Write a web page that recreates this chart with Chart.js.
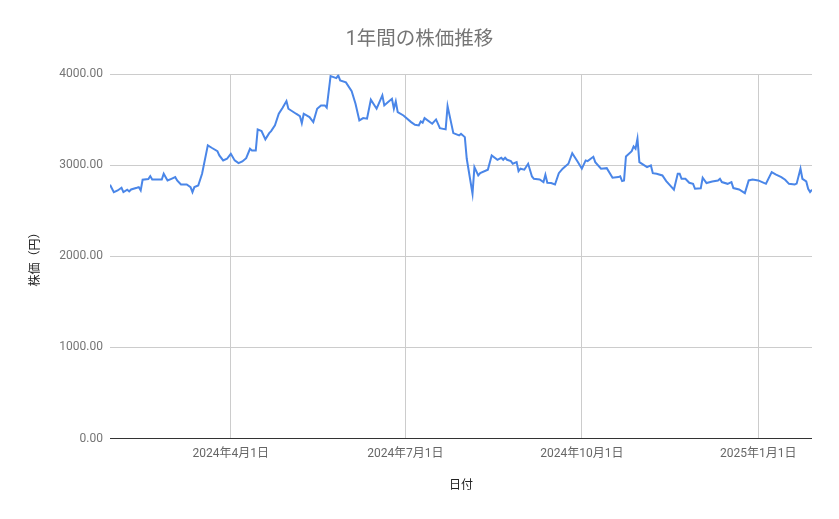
<!DOCTYPE html>
<html>
<head>
<meta charset="utf-8">
<script src="https://cdn.jsdelivr.net/npm/chart.js@4"></script>
<style>
  html, body { margin: 0; padding: 0; background: #fff; }
  #wrap { width: 839px; height: 519px; position: relative; }
</style>
</head>
<body>
<div id="wrap"><canvas id="c"></canvas></div>
<script>
const chartTitle = '1年間の株価推移';
const xAxisTitle = '日付';
const yAxisTitle = '株価（円）';

const dates = [
  '2024-01-29','2024-01-31','2024-02-02','2024-02-04','2024-02-05','2024-02-07','2024-02-08','2024-02-09',
  '2024-02-12','2024-02-13','2024-02-14','2024-02-15','2024-02-18','2024-02-19','2024-02-20','2024-02-25',
  '2024-02-26','2024-02-28','2024-03-01','2024-03-03','2024-03-04','2024-03-06','2024-03-09','2024-03-11',
  '2024-03-12','2024-03-13','2024-03-15','2024-03-17','2024-03-20','2024-03-22','2024-03-25','2024-03-26',
  '2024-03-28','2024-03-30','2024-04-01','2024-04-03','2024-04-05','2024-04-07','2024-04-09','2024-04-11',
  '2024-04-12','2024-04-14','2024-04-15','2024-04-17','2024-04-19','2024-04-21','2024-04-22','2024-04-24',
  '2024-04-26','2024-04-28','2024-04-30','2024-05-01','2024-05-05','2024-05-07','2024-05-08','2024-05-09',
  '2024-05-12','2024-05-14','2024-05-16','2024-05-18','2024-05-20','2024-05-21','2024-05-23','2024-05-26',
  '2024-05-27','2024-05-28','2024-05-31','2024-06-03','2024-06-05','2024-06-07','2024-06-09','2024-06-11',
  '2024-06-13','2024-06-16','2024-06-19','2024-06-20','2024-06-22','2024-06-24','2024-06-25','2024-06-26',
  '2024-06-27','2024-06-30','2024-07-04','2024-07-06','2024-07-08','2024-07-09','2024-07-10','2024-07-11',
  '2024-07-15','2024-07-17','2024-07-19','2024-07-22','2024-07-23','2024-07-26','2024-07-29','2024-07-30',
  '2024-08-01','2024-08-02','2024-08-05','2024-08-06','2024-08-08','2024-08-09','2024-08-13','2024-08-15',
  '2024-08-18','2024-08-20','2024-08-21','2024-08-22','2024-08-23','2024-08-25','2024-08-26','2024-08-28',
  '2024-08-29','2024-08-30','2024-09-01','2024-09-03','2024-09-05','2024-09-06','2024-09-09','2024-09-11',
  '2024-09-12','2024-09-13','2024-09-15','2024-09-17','2024-09-19','2024-09-21','2024-09-24','2024-09-26',
  '2024-09-29','2024-10-01','2024-10-03','2024-10-04','2024-10-07','2024-10-08','2024-10-11','2024-10-14',
  '2024-10-17','2024-10-20','2024-10-21','2024-10-22','2024-10-23','2024-10-24','2024-10-27','2024-10-28',
  '2024-10-29','2024-10-30','2024-10-31','2024-11-02','2024-11-04','2024-11-06','2024-11-07','2024-11-09',
  '2024-11-12','2024-11-14','2024-11-16','2024-11-18','2024-11-20','2024-11-21','2024-11-22','2024-11-24',
  '2024-11-26','2024-11-28','2024-11-29','2024-12-02','2024-12-03','2024-12-05','2024-12-08','2024-12-11',
  '2024-12-12','2024-12-13','2024-12-16','2024-12-18','2024-12-19','2024-12-22','2024-12-25','2024-12-27',
  '2024-12-29','2025-01-01','2025-01-03','2025-01-05','2025-01-08','2025-01-10','2025-01-13','2025-01-15',
  '2025-01-17','2025-01-20','2025-01-21','2025-01-23','2025-01-24','2025-01-26','2025-01-27','2025-01-28',
  '2025-01-29'
];

const prices = [
  2788,2707,2725,2755,2707,2733,2714,2736,
  2755,2762,2725,2843,2850,2883,2846,2846,
  2909,2835,2853,2872,2835,2791,2791,2762,
  2707,2762,2780,2909,3220,3194,3157,3110,
  3055,3073,3128,3055,3025,3044,3080,3183,
  3165,3165,3396,3377,3286,3355,3377,3440,
  3568,3634,3707,3623,3568,3542,3465,3568,
  3531,3476,3623,3659,3659,3634,3981,3959,
  3989,3934,3912,3815,3678,3494,3520,3513,
  3722,3623,3769,3659,3696,3732,3623,3703,
  3586,3549,3476,3447,3440,3484,3470,3520,
  3458,3505,3410,3396,3652,3355,3330,3348,
  3311,3073,2690,2981,2890,2915,2953,3110,
  3062,3084,3062,3084,3062,3047,3018,3036,
  2937,2964,2953,3018,2879,2853,2846,2817,
  2897,2809,2806,2791,2915,2964,3018,3135,
  3036,2964,3055,3047,3095,3036,2964,2970,
  2865,2872,2880,2828,2835,3099,3157,3209,
  3183,3293,3036,3008,2981,3000,2915,2909,
  2890,2828,2780,2733,2909,2909,2853,2853,
  2809,2798,2743,2748,2865,2806,2824,2835,
  2853,2817,2798,2817,2751,2736,2696,2835,
  2846,2835,2817,2798,2926,2901,2872,2843,
  2798,2791,2800,2964,2853,2824,2743,2707,
  2733
];

const xTickDates = ['2024-04-01','2024-07-01','2024-10-01','2025-01-01'];
const yTicks = [0, 1000, 2000, 3000, 4000];

function dayNum(s) {
  const [y, m, d] = s.split('-').map(Number);
  return Date.UTC(y, m - 1, d) / 86400000;
}
function fmtDate(v) {
  const dt = new Date(v * 86400000);
  return dt.getUTCFullYear() + '年' + (dt.getUTCMonth() + 1) + '月' + dt.getUTCDate() + '日';
}

const points = dates.map((d, i) => ({ x: dayNum(d), y: prices[i] }));
const FONT = "Roboto, 'Noto Sans CJK JP', sans-serif";

new Chart(document.getElementById('c'), {
  type: 'line',
  data: {
    datasets: [{
      label: '株価',
      data: points,
      borderColor: '#4a86e8',
      backgroundColor: '#4a86e8',
      borderWidth: 2,
      pointRadius: 0,
      tension: 0,
      fill: false,
      yAxisID: 'y'
    }]
  },
  options: {
    responsive: true,
    maintainAspectRatio: false,
    animation: false,
    layout: { padding: { left: 0, right: 0, top: 0, bottom: 0 } },
    plugins: {
      legend: { display: false },
      tooltip: { enabled: false },
      title: {
        display: true,
        text: chartTitle,
        color: '#757575',
        font: { family: FONT, size: 19.5, weight: 'normal' },
        padding: { top: 28, bottom: 23 }
      }
    },
    scales: {
      x: {
        type: 'linear',
        min: dayNum(dates[0]),
        max: dayNum(dates[dates.length - 1]),
        afterBuildTicks: (scale) => { scale.ticks = xTickDates.map(d => ({ value: dayNum(d) })); },
        afterFit: (scale) => { scale.height = 80.5; },
        ticks: {
          callback: (v) => fmtDate(v),
          color: '#666666',
          font: { family: FONT, size: 12 },
          padding: 8,
          maxRotation: 0,
          autoSkip: false
        },
        grid: { color: '#cccccc', drawTicks: false, lineWidth: 1 },
        border: { display: false },
        title: {
          display: true,
          text: xAxisTitle,
          color: '#222222',
          font: { family: FONT, size: 12, weight: 'normal' },
          padding: { top: 0, bottom: 26 }
        }
      },
      y: {
        type: 'linear',
        position: 'left',
        min: 0,
        max: 4000,
        afterBuildTicks: (scale) => { scale.ticks = yTicks.map(v => ({ value: v })); },
        afterFit: (scale) => { scale.width = 110; },
        ticks: {
          callback: (v) => Number(v).toFixed(2),
          color: '#757575',
          font: { family: FONT, size: 12 },
          padding: 7
        },
        grid: {
          color: (ctx) => (ctx.tick && ctx.tick.value === 0) ? '#333333' : '#cccccc',
          drawTicks: false,
          lineWidth: 1
        },
        border: { display: false },
        title: {
          display: true,
          text: yAxisTitle,
          color: '#222222',
          font: { family: FONT, size: 12, weight: 'normal' },
          padding: { top: 29, bottom: 0 }
        }
      },
      yRight: {
        type: 'linear',
        position: 'right',
        display: true,
        min: 0,
        max: 4000,
        afterFit: (scale) => { scale.width = 27; },
        ticks: { display: false },
        grid: { display: false, drawOnChartArea: false },
        border: { display: false },
        title: { display: false }
      }
    }
  }
});
</script>
</body>
</html>
